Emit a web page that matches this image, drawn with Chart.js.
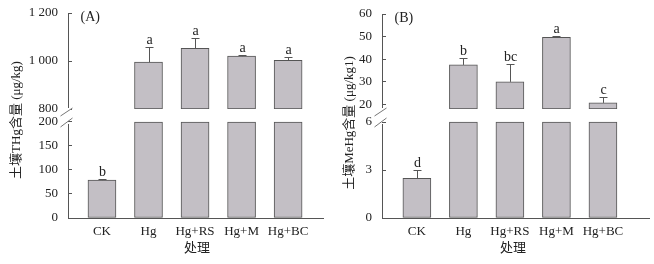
<!DOCTYPE html>
<html>
<head>
<meta charset="utf-8">
<script src="https://cdn.jsdelivr.net/npm/chart.js@4/dist/chart.umd.min.js"></script>
<style>
  body { margin: 0; background: #fff; width: 654px; height: 264px; position: relative; overflow: hidden; }
  .panel { position: absolute; top: 0; height: 264px; }
  #panel-a { left: 0; width: 330px; }
  #panel-b { left: 330px; width: 324px; }
</style>
</head>
<body>
<div class="panel" id="panel-a"><canvas id="chart-a"></canvas></div>
<div class="panel" id="panel-b"><canvas id="chart-b"></canvas></div>
<script>
// Treatments on the x axis
const categories = ['CK', 'Hg', 'Hg+RS', 'Hg+M', 'Hg+BC'];

// (A) soil total Hg, µg/kg
const thgMean = [79, 995, 1053, 1020, 1003];
const thgErr = [3, 62, 44, 6, 12];
const thgLetters = ['b', 'a', 'a', 'a', 'a'];
const thgLowTicks = [0, 50, 100, 150, 200];
const thgHighTicks = [800, 1000, 1200];

// (B) soil MeHg, µg/kg
const mehgMean = [2.48, 37.5, 30.0, 49.7, 20.7];
const mehgErr = [0.5, 3.0, 7.7, 0.7, 2.6];
const mehgLetters = ['d', 'b', 'bc', 'a', 'c'];
const mehgLowTicks = [0, 3, 6];
const mehgHighTicks = [20, 30, 40, 50, 60];

const FONT = "'Liberation Serif', 'Noto Sans CJK SC', serif";
const TEXT = '#222';
const LINE = '#555';
const BAR_FILL = '#c3bfc5';

// thousands separated by a space, as in the figure
function fmt(v) {
  return v >= 1000 ? String(v).replace(/(\d)(\d{3})$/, '$1 $2') : String(v);
}

// error bars, letters, axis break, titles
const decoPlugin = {
  id: 'deco',
  afterDatasetsDraw(chart, args, o) {
    const ctx = chart.ctx;
    const x = chart.scales.x, yLow = chart.scales.yLow, yHigh = chart.scales.yHigh;
    const yPix = v => v > o.lowTop ? yHigh.getPixelForValue(v) : yLow.getPixelForValue(v);
    ctx.save();

    // error bars (upper side only) and significance letters
    ctx.strokeStyle = LINE;
    ctx.lineWidth = 1;
    ctx.fillStyle = TEXT;
    ctx.font = '14px ' + FONT;
    ctx.textAlign = 'center';
    ctx.textBaseline = 'alphabetic';
    o.mean.forEach((m, i) => {
      const cx = Math.round(x.getPixelForValue(i)) + 0.5;
      const y0 = yPix(m);
      const y1 = Math.round(yPix(m + o.err[i])) + 0.5;
      ctx.beginPath();
      ctx.moveTo(cx, y0);
      ctx.lineTo(cx, y1);
      ctx.moveTo(cx - 4, y1);
      ctx.lineTo(cx + 4, y1);
      ctx.stroke();
      ctx.fillText(o.letters[i], cx, y1 - 4);
    });

    // lower part of the y axis line
    const ax = Math.round(chart.chartArea.left) + 0.5;
    const lowTopPx = yLow.getPixelForValue(o.lowTop);
    const highBasePx = yHigh.getPixelForValue(yHigh.min);
    ctx.beginPath();
    ctx.moveTo(ax, yLow.getPixelForValue(0));
    ctx.lineTo(ax, lowTopPx + 2);
    ctx.stroke();

    // white out the end of the upper axis and draw the break marks
    ctx.fillStyle = '#fff';
    ctx.fillRect(ax - 2, highBasePx - 1, 4, 4);
    ctx.strokeStyle = '#777';
    ctx.beginPath();
    ctx.moveTo(ax - 8, highBasePx + 7);
    ctx.lineTo(ax + 4, highBasePx - 1);
    ctx.moveTo(ax - 8, lowTopPx + 5);
    ctx.lineTo(ax + 4, lowTopPx - 4);
    ctx.stroke();

    // panel label
    ctx.fillStyle = TEXT;
    ctx.font = '14px ' + FONT;
    ctx.textAlign = 'left';
    ctx.textBaseline = 'middle';
    ctx.fillText(o.panel, ax + 12, chart.chartArea.top + 4);

    // x title
    ctx.font = '13px ' + FONT;
    ctx.textAlign = 'center';
    ctx.fillText('处理', o.xTitleX, 249);

    // y title
    ctx.translate(o.yTitleX, o.yTitleY);
    ctx.rotate(-Math.PI / 2);
    ctx.fillText(o.yTitle, 0, 0);
    ctx.restore();
  }
};

function makePanel(canvasId, cfg) {
  const lowData = categories.map((c, i) => ({ x: i, y: Math.min(cfg.mean[i], cfg.lowTop) }));
  const highData = categories.map((c, i) => ({ x: i, y: cfg.mean[i] > cfg.highMin ? [cfg.highMin, cfg.mean[i]] : null }));

  const tickFont = { family: FONT, size: 13 };
  const yCommon = {
    type: 'linear',
    position: 'left',
    stack: 'v',
    afterFit: s => { s.width = cfg.axisX; s.paddingTop = 0; s.paddingBottom = 0; },
    grid: { drawOnChartArea: false, tickLength: -4, color: LINE },
    ticks: { font: tickFont, color: TEXT, padding: 14, autoSkip: false, callback: v => fmt(v) }
  };

  const barStyle = {
    backgroundColor: BAR_FILL,
    borderColor: LINE,
    borderWidth: 1,
    borderSkipped: false,
    barThickness: 28,
    grouped: false
  };

  return new Chart(document.getElementById(canvasId), {
    type: 'bar',
    data: {
      datasets: [
        Object.assign({ label: 'low', data: lowData, yAxisID: 'yLow' }, barStyle),
        Object.assign({ label: 'high', data: highData, yAxisID: 'yHigh' }, barStyle)
      ]
    },
    options: {
      responsive: true,
      maintainAspectRatio: false,
      animation: false,
      layout: { padding: { left: 0, right: cfg.padRight, top: cfg.padTop, bottom: 0 } },
      scales: {
        x: {
          type: 'linear',
          offset: false,
          min: cfg.xMin,
          max: cfg.xMax,
          afterFit: s => { s.height = 46; s.paddingLeft = 0; s.paddingRight = 0; },
          afterBuildTicks: s => { s.ticks = categories.map((c, i) => ({ value: i })); },
          grid: { display: false, drawTicks: false, offset: false },
          border: { display: true, color: LINE },
          ticks: { font: tickFont, color: TEXT, padding: 6, autoSkip: false, maxRotation: 0,
                   callback: v => categories[v] }
        },
        // first scale in the stack is placed at the bottom
        yLow: Object.assign({}, yCommon, {
          min: 0,
          max: cfg.lowMax,
          stackWeight: cfg.lowWeight,
          afterBuildTicks: s => { s.ticks = cfg.lowTicks.map(v => ({ value: v })); },
          border: { display: false }
        }),
        yHigh: Object.assign({}, yCommon, {
          min: cfg.highMin,
          max: cfg.highMax,
          stackWeight: cfg.highWeight,
          afterBuildTicks: s => { s.ticks = cfg.highTicks.map(v => ({ value: v })); },
          border: { display: true, color: LINE }
        })
      },
      plugins: {
        legend: { display: false },
        tooltip: { enabled: false },
        deco: cfg
      }
    },
    plugins: [decoPlugin]
  });
}

makePanel('chart-a', {
  panel: '(A)',
  mean: thgMean, err: thgErr, letters: thgLetters,
  lowTicks: thgLowTicks, highTicks: thgHighTicks,
  lowTop: 200, lowMax: 227.08, highMin: 800, highMax: 1200,
  lowWeight: 109, highWeight: 96,
  axisX: 68, padTop: 13, padRight: 7,
  xMin: -0.73, xMax: 4.75,
  yTitle: '土壤THg含量 (μg/kg)', yTitleX: 17, yTitleY: 120, xTitleX: 197
});

makePanel('chart-b', {
  panel: '(B)',
  mean: mehgMean, err: mehgErr, letters: mehgLetters,
  lowTicks: mehgLowTicks, highTicks: mehgHighTicks,
  lowTop: 6, lowMax: 6.8125, highMin: 18, highMax: 60,
  lowWeight: 109, highWeight: 95,
  axisX: 52, padTop: 14, padRight: 5,
  xMin: -0.75, xMax: 4.99,
  yTitle: '土壤MeHg含量 (μg/kg1)', yTitleX: 20, yTitleY: 123, xTitleX: 183
});
</script>
</body>
</html>
